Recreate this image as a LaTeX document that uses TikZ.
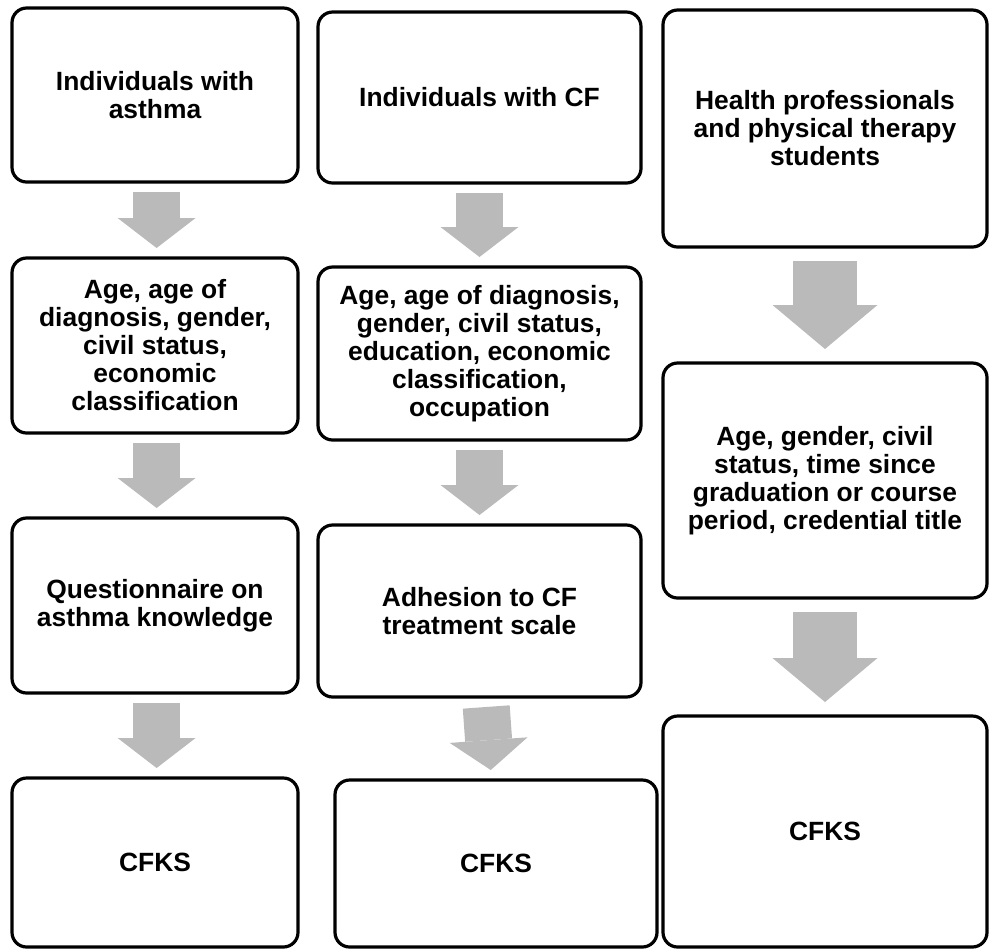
\documentclass[tikz,border=0pt]{standalone}
\usepackage{fontspec}
\setmainfont{Liberation Sans}
\usetikzlibrary{arrows.meta}
\definecolor{arrowgray}{RGB}{186,186,186}
\tikzset{every picture/.style={line width=0.75pt}}

\begin{document}
\begin{tikzpicture}[x=0.75pt,y=0.75pt,yscale=-1,xscale=1,
  box/.style={draw, line width=2.4pt, rounded corners=11pt, inner sep=0pt, outer sep=0pt, align=center, font=\fontsize{19.8}{21}\selectfont\bfseries},
  downarrow/.style={draw=arrowgray, line width=35.25pt, shorten <=7.5pt, shorten >=7.5pt, -{Triangle[length=22.5pt,width=58.5pt,line width=0pt]}},
  bigdownarrow/.style={draw=arrowgray, line width=48pt, shorten <=10.5pt, shorten >=10.5pt, -{Triangle[length=33pt,width=78.75pt,line width=0pt]}}]
\useasboundingbox (0,0) rectangle (995,951);

%Rounded Rect, first column
\draw (155,95) node [box, minimum width=214.5pt, minimum height=130.5pt] (asthGroup) {Individuals with\\asthma};
\draw (155,345.5) node [box, minimum width=214.5pt, minimum height=131.25pt] (asthData) {Age, age of\\diagnosis, gender,\\civil status,\\economic\\classification};
\draw (155,605.5) node [box, minimum width=214.5pt, minimum height=131.25pt] (asthQuest) {Questionnaire on\\asthma knowledge};
\draw (155,862.5) node [box, minimum width=214.5pt, minimum height=126.75pt] (asthCfks) {CFKS};

%Rounded Rect, second column
\draw (479.5,97.5) node [box, minimum width=242.25pt, minimum height=128.25pt] (cfGroup) {Individuals with CF};
\draw (479.5,353.5) node [box, minimum width=242.25pt, minimum height=129.75pt] (cfData) {Age, age of diagnosis,\\gender, civil status,\\education, economic\\classification,\\occupation};
\draw (479.5,611) node [box, minimum width=242.25pt, minimum height=129pt] (cfScale) {Adhesion to CF\\treatment scale};
\draw (496,863.5) node [box, minimum width=241.5pt, minimum height=125.25pt] (cfCfks) {CFKS};

%Rounded Rect, third column
\draw (825,128.5) node [box, minimum width=243pt, minimum height=177.75pt] (proGroup) {Health professionals\\and physical therapy\\students};
\draw (825,480.5) node [box, minimum width=243pt, minimum height=176.25pt] (proData) {Age, gender, civil\\status, time since\\graduation or course\\period, credential title};
\draw (825,831.5) node [box, minimum width=243pt, minimum height=173.25pt] (proCfks) {CFKS};

%Block Arrows
\draw [downarrow] ([xshift=1.2pt]asthGroup.south) -- ([xshift=1.2pt]asthData.north);
\draw [downarrow] ([xshift=1.2pt]asthData.south) -- ([xshift=1.2pt]asthQuest.north);
\draw [downarrow] ([xshift=1.2pt]asthQuest.south) -- ([xshift=1.2pt]asthCfks.north);
\draw [downarrow] (cfGroup.south) -- (cfData.north);
\draw [downarrow] (cfData.south) -- (cfScale.north);
\draw [downarrow] ([xshift=4.5pt]cfScale.south) -- ([xshift=-3.4pt]cfCfks.north);
\draw [bigdownarrow] (proGroup.south) -- (proData.north);
\draw [bigdownarrow] (proData.south) -- (proCfks.north);

\end{tikzpicture}
\end{document}
